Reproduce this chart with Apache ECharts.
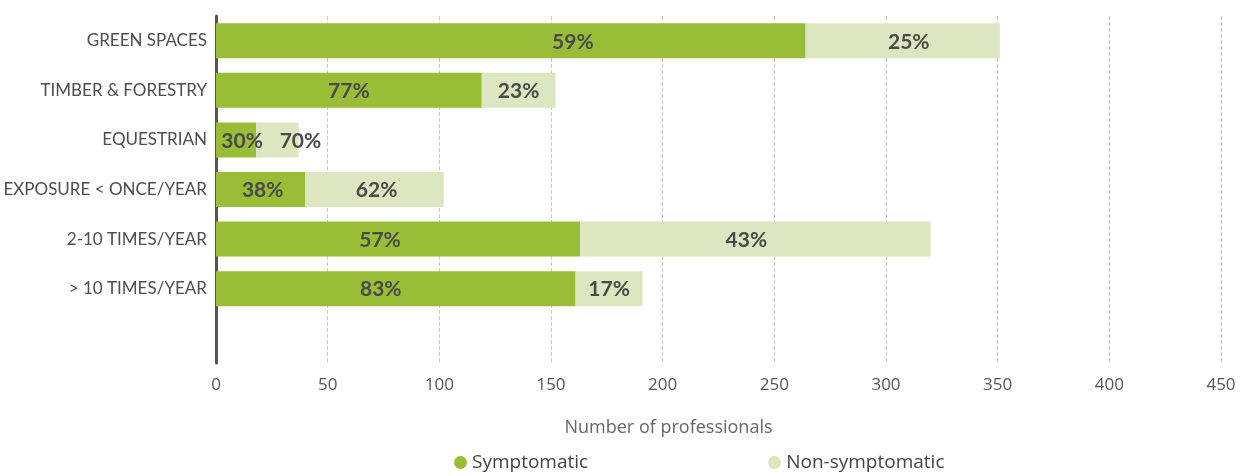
<!DOCTYPE html>
<html>
<head>
<meta charset="utf-8">
<script src="https://cdn.jsdelivr.net/npm/echarts@6/dist/echarts.min.js"></script>
<style>
  html, body { margin: 0; padding: 0; background: #ffffff; }
  #chart { width: 1257px; height: 476px; }
</style>
</head>
<body>
<div id="chart"></div>
<script>
// Sectors and exposure groups (top to bottom)
const categories = [
  'GREEN SPACES',
  'TIMBER & FORESTRY',
  'EQUESTRIAN',
  'EXPOSURE < ONCE/YEAR',
  '2-10 TIMES/YEAR',
  '> 10 TIMES/YEAR'
];

// Number of professionals in each group
const symptomatic    = [264, 119, 18, 40, 163, 161];
const nonSymptomatic = [87, 33, 19, 62, 157, 30];

// Share of each group, printed on the bar segments
const symptomaticPct    = [59, 77, 30, 38, 57, 83];
const nonSymptomaticPct = [25, 23, 70, 62, 43, 17];

// Value axis ticks
const xMin = 0;
const xMax = 450;
const xStep = 50;

// Horizontal nudges for the percentage labels (pixels)
const symptomaticLabelShift    = [62, 0, 6, 2, -18, -15];
const nonSymptomaticLabelShift = [6, 0, 23, 2, -9, 0];

const FONT = 'Lato, "Open Sans", sans-serif';
const WIDE_FONT = '"Open Sans", Lato, sans-serif';
const GREEN = '#99bd37';
const PALE = '#dce6c0';

function buildData(values, shifts) {
  const rows = values.map((v, i) => ({
    value: v,
    label: { offset: [shifts[i], 1] }
  }));
  rows.push(null); // empty slot below the last group
  return rows;
}

const chart = echarts.init(document.getElementById('chart'), null, { renderer: 'canvas' });

const labelStyle = {
  show: true,
  position: 'inside',
  fontFamily: FONT,
  fontSize: 21,
  fontWeight: 'bold',
  color: '#4a4a4a'
};

chart.setOption({
  animation: false,
  backgroundColor: '#ffffff',
  grid: { left: 216, right: 36, top: 16, bottom: 113, containLabel: false },
  legend: {
    top: 448,
    left: 449,
    itemGap: 180,
    icon: 'circle',
    itemWidth: 13,
    itemHeight: 13,
    itemStyle: { borderWidth: 0 },
    textStyle: { fontFamily: WIDE_FONT, fontSize: 19, color: '#444444' },
    data: ['Symptomatic', 'Non-symptomatic']
  },
  xAxis: {
    type: 'value',
    min: xMin,
    max: xMax,
    interval: xStep,
    axisLine: { show: false },
    axisTick: { show: false },
    splitLine: { show: true, lineStyle: { color: '#c8c8c8', type: 'dashed', width: 1 } },
    axisLabel: { margin: 14, fontFamily: WIDE_FONT, fontSize: 17, color: '#555555' },
    name: 'Number of professionals',
    nameLocation: 'middle',
    nameGap: 56,
    nameTextStyle: {
      fontFamily: WIDE_FONT,
      fontSize: 18,
      color: '#666666',
      padding: [0, 100, 0, 0]
    }
  },
  yAxis: {
    type: 'category',
    inverse: true,
    data: categories.concat(['']),
    axisLine: { show: true, lineStyle: { color: '#555555', width: 3 } },
    axisTick: { show: false },
    splitLine: { show: false },
    axisLabel: { margin: 9, fontFamily: FONT, fontSize: 17, color: '#4d4d4d' }
  },
  series: [
    {
      name: 'Symptomatic',
      type: 'bar',
      stack: 'total',
      barWidth: 35,
      itemStyle: { color: GREEN },
      label: Object.assign({}, labelStyle, {
        formatter: p => symptomaticPct[p.dataIndex] + '%'
      }),
      data: buildData(symptomatic, symptomaticLabelShift)
    },
    {
      name: 'Non-symptomatic',
      type: 'bar',
      stack: 'total',
      barWidth: 35,
      itemStyle: { color: PALE },
      label: Object.assign({}, labelStyle, {
        formatter: p => nonSymptomaticPct[p.dataIndex] + '%'
      }),
      data: buildData(nonSymptomatic, nonSymptomaticLabelShift)
    }
  ]
});
</script>
</body>
</html>
